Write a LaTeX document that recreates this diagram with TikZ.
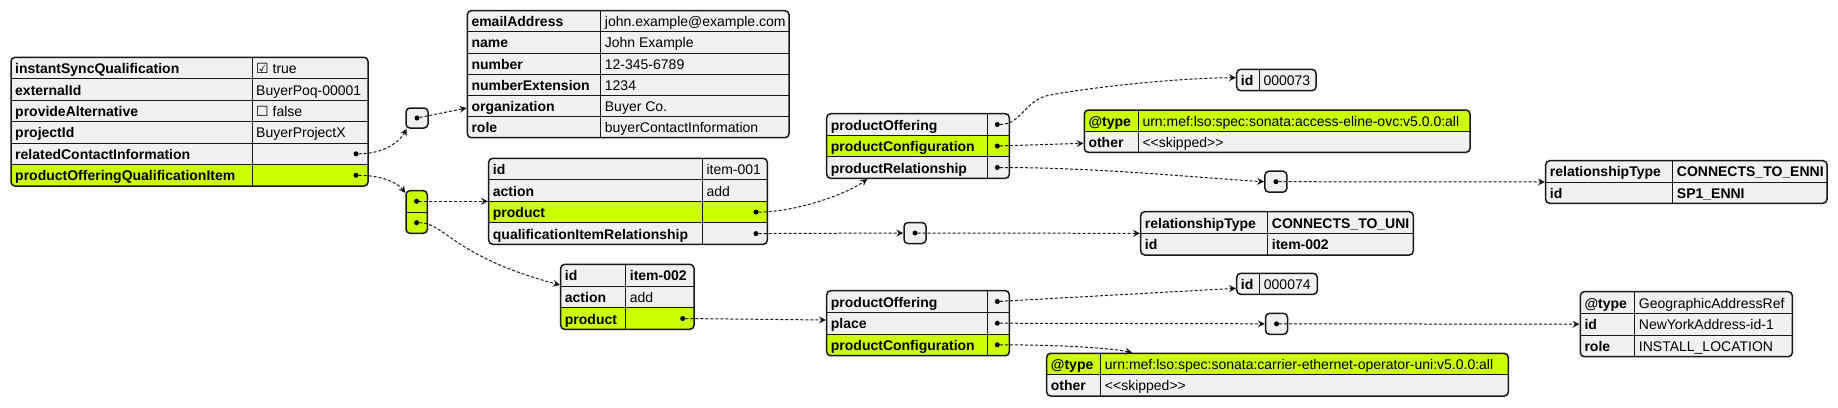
\documentclass[tikz,border=0pt]{standalone}
\usepackage{fontspec}
\setmainfont{Liberation Sans}
\newfontfamily\symf{DejaVu Sans}
\usetikzlibrary{arrows.meta,fit,calc}
\definecolor{tabgray}{HTML}{F1F1F1}
\definecolor{hl}{HTML}{CCFF02}
\definecolor{linec}{HTML}{181818}
\newcommand\fs{\fontsize{14}{16}\selectfont}
\newcommand\tabbg[4]{\fill[tabgray, rounded corners=4pt] (#1,#2) rectangle (#3,#4);}
\newcommand\tabhl[6]{\begin{scope}\clip[rounded corners=4pt] (#1,#2) rectangle (#3,#4);\fill[hl] (#1,#5) rectangle (#3,#6);\end{scope}}
\newcommand\jh[3]{\draw[grid] (#1,#3) -- (#2,#3);}
\newcommand\jv[3]{\draw[grid] (#1,#2) -- (#1,#3);}
\newcommand\tabframe[5]{\node[frame, fit={(#2,#3)(#4,#5)}] (#1) {};}
\newcommand\kv[6]{\node[key] (#1k) at (#2+4,#4+5.5) {#5};\node[val] (#1v) at (#3+4,#4+5.5) {#6};}
\newcommand\kvb[6]{\node[key] (#1k) at (#2+4,#4+5.5) {#5};\node[key] (#1v) at (#3+4,#4+5.5) {#6};}
\newcommand\kk[4]{\node[key] (#1k) at (#2+4,#3+5.5) {#4};}
\tikzset{
  frame/.style={draw=linec, line width=1.5pt, rounded corners=4pt, inner sep=0pt},
  grid/.style={draw=linec, line width=1pt},
  key/.style={font=\fs\bfseries, anchor=base west, inner sep=0pt, text=black},
  val/.style={font=\fs, anchor=base west, inner sep=0pt, text=black},
  dotn/.style={circle, fill=black, inner sep=0pt, minimum size=5pt},
  smallbox/.style={draw=linec, line width=1.5pt, fill=tabgray, rounded corners=4pt, inner sep=0pt, minimum width=22pt, minimum height=21pt},
  link/.style={draw=linec, line width=1pt, dash pattern=on 3pt off 2pt, -{Stealth[length=7pt,width=7pt,inset=2.5pt]}},
}
\begin{document}
\begin{tikzpicture}[x=1pt,y=-1pt,font=\fs]
\useasboundingbox[fill=white] (0,0) rectangle (1838,407);

% ---------- root table T0
\tabbg{11}{57.3}{368}{186}
\tabhl{11}{57.3}{368}{186}{164.55}{186}
\foreach \y in {78.75,100.2,121.65,143.1,164.55} {\jh{11}{368}{\y}}
\jv{252}{57.3}{186}
\tabframe{T0}{11}{57.3}{368}{186}
\kv{r1}{11}{252}{68}{instantSyncQualification}{{\symf ☑} true}
\kv{r2}{11}{252}{89.5}{externalId}{BuyerPoq-00001}
\kv{r3}{11}{252}{110.9}{provideAlternative}{{\symf ☐} false}
\kv{r4}{11}{252}{132.4}{projectId}{BuyerProjectX}
\kk{r5}{11}{153.8}{relatedContactInformation}
\kk{r6}{11}{175.3}{productOfferingQualificationItem}
\node[dotn] (dRCI) at (356,153.8) {};
\node[dotn] (dPOQI) at (356,175.3) {};

% ---------- small box A
\node[smallbox, minimum height=20pt] (boxA) at (417,118) {};
\node[dotn] (dA) at (417,118) {};

% ---------- contact table T1
\tabbg{467.3}{10.7}{789}{137.7}
\foreach \y in {31.9,53.0,74.2,95.4,116.5} {\jh{467.3}{789}{\y}}
\jv{600.7}{10.7}{137.7}
\tabframe{T1}{467.3}{10.7}{789}{137.7}
\kv{c1}{467.3}{600.7}{21.3}{emailAddress}{john.example@example.com}
\kv{c2}{467.3}{600.7}{42.4}{name}{John Example}
\kv{c3}{467.3}{600.7}{63.6}{number}{12-345-6789}
\kv{c4}{467.3}{600.7}{84.8}{numberExtension}{1234}
\kv{c5}{467.3}{600.7}{105.9}{organization}{Buyer Co.}
\kv{c6}{467.3}{600.7}{127.1}{role}{buyerContactInformation}

% ---------- array box
\fill[hl, rounded corners=4pt] (406,190.7) rectangle (427.3,233.3);
\jh{406}{427.3}{212}
\tabframe{Arr}{406}{190.7}{427.3}{233.3}
\node[dotn] (dArr1) at (416.6,201.3) {};
\node[dotn] (dArr2) at (416.6,222.7) {};

% ---------- item-001 T2
\tabbg{488.7}{158.3}{767.3}{244.3}
\tabhl{488.7}{158.3}{767.3}{244.3}{201.3}{222.8}
\foreach \y in {179.8,201.3,222.8} {\jh{488.7}{767.3}{\y}}
\jv{702.3}{158.3}{244.3}
\tabframe{T2}{488.7}{158.3}{767.3}{244.3}
\kv{a1}{488.7}{702.3}{169.05}{id}{item-001}
\kv{a2}{488.7}{702.3}{190.55}{action}{add}
\kk{a3}{488.7}{212.05}{product}
\kk{a4}{488.7}{233.55}{qualificationItemRelationship}
\node[dotn] (dT2p) at (756,212.05) {};
\node[dotn] (dT2q) at (756,233.55) {};

% ---------- item-002 T3
\tabbg{560.7}{264.3}{694}{329.3}
\tabhl{560.7}{264.3}{694}{329.3}{307.6}{329.3}
\foreach \y in {286,307.6} {\jh{560.7}{694}{\y}}
\jv{625.7}{264.3}{329.3}
\tabframe{T3}{560.7}{264.3}{694}{329.3}
\kvb{b1}{560.7}{625.7}{275.1}{id}{item-002}
\kv{b2}{560.7}{625.7}{296.8}{action}{add}
\kk{b3}{560.7}{318.5}{product}
\node[dotn] (dT3p) at (682.7,318.5) {};

% ---------- product table P1
\tabbg{826.7}{113.7}{1009.3}{178.3}
\tabhl{826.7}{113.7}{1009.3}{178.3}{135.2}{156.8}
\foreach \y in {135.2,156.8} {\jh{826.7}{1009.3}{\y}}
\jv{987.7}{113.7}{178.3}
\tabframe{P1}{826.7}{113.7}{1009.3}{178.3}
\kk{p1}{826.7}{124.5}{productOffering}
\kk{p2}{826.7}{146}{productConfiguration}
\kk{p3}{826.7}{167.5}{productRelationship}
\node[dotn] (dP1o) at (997.3,124.5) {};
\node[dotn] (dP1c) at (997.3,146) {};
\node[dotn] (dP1r) at (997.3,167.5) {};

% ---------- id 000073
\tabbg{1236.7}{69.3}{1316}{90.7}
\jv{1259.3}{69.3}{90.7}
\tabframe{I1}{1236.7}{69.3}{1316}{90.7}
\kv{i1}{1236.7}{1259.3}{80}{id}{000073}

% ---------- @type C1
\tabbg{1084.3}{110}{1470}{152.3}
\tabhl{1084.3}{110}{1470}{152.3}{110}{131.15}
\jh{1084.3}{1470}{131.15}
\jv{1138.3}{110}{152.3}
\tabframe{C1}{1084.3}{110}{1470}{152.3}
\kv{t1}{1084.3}{1138.3}{120.6}{@type}{urn:mef:lso:spec:sonata:access-eline-ovc:v5.0.0:all}
\kv{t2}{1084.3}{1138.3}{141.7}{other}{<\kern0pt<skipped>\kern0pt>}

% ---------- small box B
\node[smallbox] (boxB) at (1275.9,181.7) {};
\node[dotn] (dB) at (1275.9,181.7) {};

% ---------- ENNI table E1
\tabbg{1545.7}{160.7}{1827}{203.3}
\jh{1545.7}{1827}{182}
\jv{1672.7}{160.7}{203.3}
\tabframe{E1}{1545.7}{160.7}{1827}{203.3}
\kvb{e1}{1545.7}{1672.7}{171.35}{relationshipType}{CONNECTS\_TO\_ENNI}
\kvb{e2}{1545.7}{1672.7}{192.65}{id}{SP1\_ENNI}

% ---------- small box C
\node[smallbox] (boxC) at (915,233) {};
\node[dotn] (dC) at (915,233) {};

% ---------- UNI table U1
\tabbg{1140.7}{211.7}{1413.3}{255}
\jh{1140.7}{1413.3}{233.35}
\jv{1267.7}{211.7}{255}
\tabframe{U1}{1140.7}{211.7}{1413.3}{255}
\kvb{u1}{1140.7}{1267.7}{222.5}{relationshipType}{CONNECTS\_TO\_UNI}
\kvb{u2}{1140.7}{1267.7}{244.2}{id}{item-002}

% ---------- product table P2
\tabbg{826.7}{290.7}{1009.3}{355.7}
\tabhl{826.7}{290.7}{1009.3}{355.7}{334}{355.7}
\foreach \y in {312.4,334} {\jh{826.7}{1009.3}{\y}}
\jv{987.7}{290.7}{355.7}
\tabframe{P2}{826.7}{290.7}{1009.3}{355.7}
\kk{q1}{826.7}{301.5}{productOffering}
\kk{q2}{826.7}{323.2}{place}
\kk{q3}{826.7}{344.8}{productConfiguration}
\node[dotn] (dP2o) at (997.3,301.5) {};
\node[dotn] (dP2p) at (997.3,323.2) {};
\node[dotn] (dP2c) at (997.3,344.8) {};

% ---------- id 000074
\tabbg{1236.7}{273.3}{1317.3}{294.3}
\jv{1259.7}{273.3}{294.3}
\tabframe{I2}{1236.7}{273.3}{1317.3}{294.3}
\kv{i2}{1236.7}{1259.7}{283.8}{id}{000074}

% ---------- small box D
\node[smallbox] (boxD) at (1276.5,323.8) {};
\node[dotn] (dD) at (1276.5,323.8) {};

% ---------- @type C2
\tabbg{1046.7}{353.3}{1508.3}{396}
\tabhl{1046.7}{353.3}{1508.3}{396}{353.3}{374.65}
\jh{1046.7}{1508.3}{374.65}
\jv{1100.7}{353.3}{396}
\tabframe{C2}{1046.7}{353.3}{1508.3}{396}
\kv{s1}{1046.7}{1100.7}{364}{@type}{urn:mef:lso:spec:sonata:carrier-ethernet-operator-uni:v5.0.0:all}
\kv{s2}{1046.7}{1100.7}{385.3}{other}{<\kern0pt<skipped>\kern0pt>}

% ---------- Geographic G1
\tabbg{1580.3}{291.7}{1792.3}{356.7}
\foreach \y in {313.4,335} {\jh{1580.3}{1792.3}{\y}}
\jv{1634.7}{291.7}{356.7}
\tabframe{G1}{1580.3}{291.7}{1792.3}{356.7}
\kv{g1}{1580.3}{1634.7}{302.5}{@type}{GeographicAddressRef}
\kv{g2}{1580.3}{1634.7}{324.2}{id}{NewYorkAddress-id-1}
\kv{g3}{1580.3}{1634.7}{345.8}{role}{INSTALL\_LOCATION}

% ---------- connectors
\draw[link] (dRCI) .. controls (385,153.8) and (400,141) .. ([xshift=1.5pt]boxA.south west);
\draw[link] (dA) -- ([yshift=-33.8pt]T1.west);
\draw[link] (dPOQI) .. controls (382,175.3) and (398,183) .. ([yshift=-3pt]Arr.north west);
\draw[link] (dArr1) -- (T2.west);
\draw[link] (dArr2) .. controls (445,222.7) and (452,256) .. ([yshift=11.8pt]T3.west);
\draw[link] (dT2p) .. controls (795,212) and (845,195) .. ([xshift=41.3pt]P1.south west);
\draw[link] (dT2q) -- (boxC.west);
\draw[link] (dC) -- (U1.west);
\draw[link] (dP1o) .. controls (1022,124.5) and (1024,100) .. (1050,95) .. controls (1100,86) and (1180,78) .. ([yshift=2.3pt]I1.west);
\draw[link] (dP1c) -- ([yshift=-12.15pt]C1.west);
\draw[link] (dP1r) .. controls (1100,167.5) and (1200,178) .. (boxB.west);
\draw[link] (dB) -- (E1.west);
\draw[link] (dT3p) -- ([yshift=3.2pt]P2.west);
\draw[link] (dP2o) -- ([yshift=-4.5pt]I2.west);
\draw[link] (dP2p) -- (boxD.west);
\draw[link] (dD) -- (G1.west);
\draw[link] (dP2c) .. controls (1060,344.8) and (1110,348) .. ([xshift=86.3pt]C2.north west);
\end{tikzpicture}
\end{document}
